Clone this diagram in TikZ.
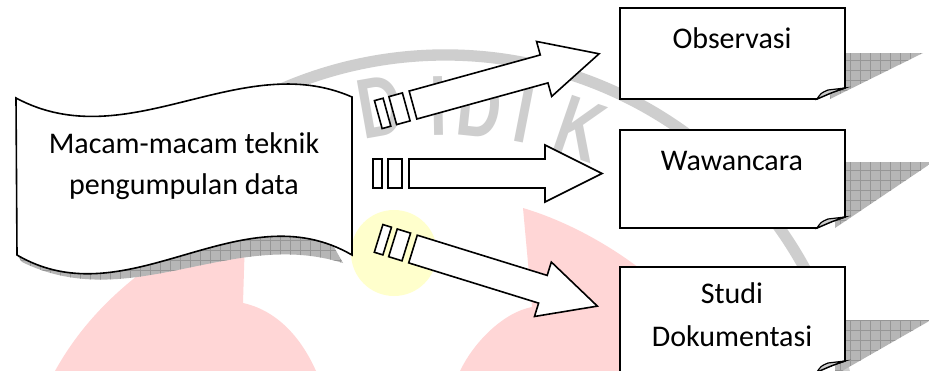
\documentclass[tikz,border=0pt]{standalone}
\usepackage{fontspec}
\setmainfont{Carlito}
\newfontfamily\markfont[FakeStretch=0.72]{Liberation Sans}

\definecolor{markpink}{RGB}{255,214,214}
\definecolor{markyellow}{RGB}{255,255,204}
\definecolor{markgray}{RGB}{206,206,206}
\definecolor{shadefill}{RGB}{182,182,182}
\definecolor{shadegrid}{RGB}{150,150,150}
\definecolor{flapgray}{RGB}{205,205,205}

\tikzset{
  outline/.style={draw=black, line width=1.2pt, fill=white, line join=miter},
  cardtext/.style={font=\fontsize{22.5pt}{30.5pt}\selectfont, align=center, inner sep=0pt},
  markletter/.style={font=\markfont\bfseries\fontsize{64pt}{64pt}\selectfont, text=markgray, inner sep=0pt},
  pics/stripearrow/.style={code={
    \draw[outline] (0,-14.5) rectangle (9,14.5);
    \draw[outline] (15,-14.5) rectangle (29,14.5);
    \draw[outline] (36,-14.5) -- (172,-14.5) -- (172,-28.5) -- (229,0)
      -- (172,28.5) -- (172,14.5) -- (36,14.5) -- cycle;
  }},
}

% cross-hatched drop shadow clipped to the given path
\newcommand\hatched[1]{%
  \begin{scope}
    \clip #1;
    \fill[shadefill] (0,0) rectangle (929,371);
    \foreach \gx in {0,10,...,930} {\draw[shadegrid, line width=0.35pt] (\gx,0) -- (\gx,371);}
    \foreach \gy in {0,10,...,370} {\draw[shadegrid, line width=0.35pt] (0,\gy) -- (929,\gy);}
  \end{scope}}

% card with a folded bottom-right corner: top, bottom
\newcommand\notecard[2]{%
  \draw[outline] (620,#1) -- (845,#1) -- (845,#2-11) .. controls (833,#2-7) .. (817,#2)
    -- (620,#2) -- cycle;
  \draw[line width=0.9pt, fill=flapgray] (817,#2) .. controls (821,#2-6) .. (828,#2-9)
    -- (845,#2-11) .. controls (833,#2-7) .. (817,#2) -- cycle;}

\begin{document}
\begin{tikzpicture}[x=0.75pt, y=-0.75pt]
  \useasboundingbox (0,0) rectangle (929,371);
  \fill[white] (0,0) rectangle (929,371);

  % faint emblem in the background
  \fill[markpink] (55,371) .. controls (100,290) and (170,250) .. (246,205)
    -- (243,303) .. controls (275,310) and (300,335) .. (316,371) -- cycle;
  \fill[markpink] (523,208) .. controls (570,222) and (620,250) .. (660,285)
    -- (700,371) -- (460,371) .. controls (475,340) and (505,312) .. (532,307) -- cycle;
  \fill[markyellow] (394,253) circle (43);
  \draw[markgray, line width=8.5pt] (445,465) ++(215:410) arc[start angle=215, end angle=360, radius=410];
  \node[markletter, rotate=10]  (m1) at (380,107) {D};
  \node[markletter, rotate=1]   (m2) at (439,106) {I};
  \node[markletter, rotate=-6]  (m3) at (480,108) {D};
  \node[markletter, rotate=-11] (m4) at (524,113) {I};
  \node[markletter, rotate=-19] (m5) at (580,129) {K};

  % shadows
  \hatched{(17,255) -- (22,262) .. controls (130,315) and (232,228) .. (343,263) -- (330,240) -- (330,200) -- (17,200) -- cycle}
  \hatched{(835,53) -- (923,53) -- (830,99) -- cycle}
  \hatched{(835,162) -- (933,162) -- (835,228) -- cycle}
  \hatched{(835,320) -- (931,320) -- (835,375) -- cycle}

  % source: wavy banner
  \draw[outline] (16,98) .. controls (128,158) and (240,48) .. (352,97)
    -- (352,255) .. controls (240,190) and (128,320) .. (17,255) -- cycle;
  \node[cardtext] (src) at (184,166) {Macam-macam teknik\\pengumpulan data};

  % target cards
  \notecard{8}{99}
  \notecard{130}{228}
  \notecard{267}{372}
  \node[cardtext, anchor=base] (obs) at (732,48) {Observasi};
  \node[cardtext, anchor=base] (waw) at (732,170) {Wawancara};
  \node[cardtext, font=\fontsize{22.5pt}{32.3pt}\selectfont] (stu) at (732,315) {Studi\\Dokumentasi};

  % striped block arrows
  \pic[rotate=15.4]  at (378.3,114.6) {stripearrow};
  \pic               at (373,173.5)   {stripearrow};
  \pic[rotate=-17.2] at (378.6,238.4) {stripearrow};
\end{tikzpicture}
\end{document}
